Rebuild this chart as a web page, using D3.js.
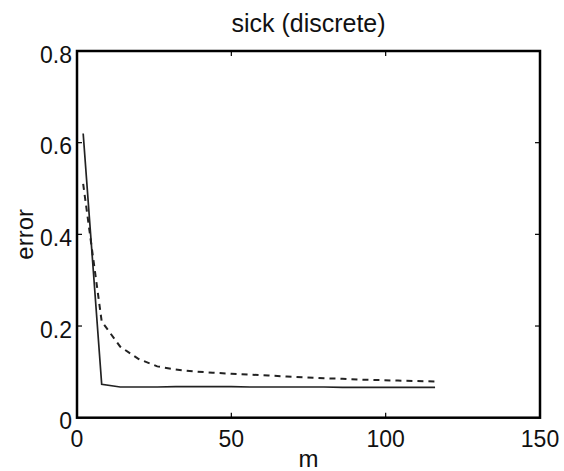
<!DOCTYPE html>
<html>
<head>
    <title>sick (discrete)</title>
    <script src="https://cdn.jsdelivr.net/npm/d3@7"></script>
    <style>
        body { margin: 0; background: #fff; }
        text { font-family: "Liberation Sans", Arial, sans-serif; fill: #111; }
    </style>
</head>
<body>
<script>
    // sample sizes m and error for the two methods
    const mValues = [2, 8, 14, 20, 26, 32, 38, 44, 50, 56, 62, 68, 74, 80, 86, 92, 98, 104, 110, 116];
    const solidErr = [0.62, 0.073, 0.067, 0.067, 0.067, 0.068, 0.068, 0.068, 0.068, 0.067, 0.067, 0.067,
        0.067, 0.067, 0.066, 0.066, 0.066, 0.066, 0.066, 0.066];
    const dashedErr = [0.51, 0.21, 0.155, 0.128, 0.112, 0.105, 0.101, 0.098, 0.096, 0.094, 0.092, 0.090,
        0.088, 0.086, 0.085, 0.083, 0.082, 0.081, 0.080, 0.079];
    const xTicks = [0, 50, 100, 150];
    const yTicks = [0, 0.2, 0.4, 0.6, 0.8];

    const width = 564;
    const height = 471;
    const plotLeft = 77, plotRight = 540, plotTop = 51, plotBottom = 417.7;

    const svg = d3.select('body')
        .append('svg')
        .attr('width', width)
        .attr('height', height);

    const x = d3.scaleLinear().domain([0, 150]).range([plotLeft, plotRight]);
    const y = d3.scaleLinear().domain([0, 0.8]).range([plotBottom, plotTop]);

    const line = d3.line()
        .x((d, i) => x(mValues[i]))
        .y(d => y(d));

    svg.append('path')
        .attr('d', line(dashedErr))
        .attr('fill', 'none')
        .attr('stroke', '#222')
        .attr('stroke-width', 2)
        .attr('stroke-dasharray', '6,5');

    svg.append('path')
        .attr('d', line(solidErr))
        .attr('fill', 'none')
        .attr('stroke', '#222')
        .attr('stroke-width', 1.7);

    // inward ticks on all four sides
    const tickLen = 5;
    xTicks.forEach(t => {
        svg.append('line').attr('x1', x(t)).attr('x2', x(t))
            .attr('y1', plotBottom).attr('y2', plotBottom - tickLen)
            .attr('stroke', '#000').attr('stroke-width', 1.2);
        svg.append('line').attr('x1', x(t)).attr('x2', x(t))
            .attr('y1', plotTop).attr('y2', plotTop + tickLen)
            .attr('stroke', '#000').attr('stroke-width', 1.2);
        svg.append('text')
            .attr('x', x(t))
            .attr('y', plotBottom + 29)
            .attr('text-anchor', 'middle')
            .style('font-size', '23px')
            .text(t);
    });
    yTicks.forEach(t => {
        svg.append('line').attr('x1', plotLeft).attr('x2', plotLeft + tickLen)
            .attr('y1', y(t)).attr('y2', y(t))
            .attr('stroke', '#000').attr('stroke-width', 1.2);
        svg.append('line').attr('x1', plotRight).attr('x2', plotRight - tickLen)
            .attr('y1', y(t)).attr('y2', y(t))
            .attr('stroke', '#000').attr('stroke-width', 1.2);
        svg.append('text')
            .attr('x', plotLeft - 5)
            .attr('y', y(t) + 3.5)
            .attr('dy', '0.36em')
            .attr('text-anchor', 'end')
            .style('font-size', '23px')
            .text(t === 0 ? '0' : d3.format('.1f')(t));
    });

    // axes box
    svg.append('rect')
        .attr('x', plotLeft).attr('y', plotTop)
        .attr('width', plotRight - plotLeft).attr('height', plotBottom - plotTop)
        .attr('fill', 'none')
        .attr('stroke', '#000')
        .attr('stroke-width', 2.5);

    svg.append('text')
        .attr('x', (plotLeft + plotRight) / 2)
        .attr('y', 32)
        .attr('text-anchor', 'middle')
        .style('font-size', '25px')
        .text('sick (discrete)');

    svg.append('text')
        .attr('x', (plotLeft + plotRight) / 2)
        .attr('y', 467)
        .attr('text-anchor', 'middle')
        .style('font-size', '24px')
        .text('m');

    svg.append('text')
        .attr('transform', `translate(33, ${(plotTop + plotBottom) / 2}) rotate(-90)`)
        .attr('text-anchor', 'middle')
        .style('font-size', '24px')
        .text('error');
</script>
</body>
</html>
